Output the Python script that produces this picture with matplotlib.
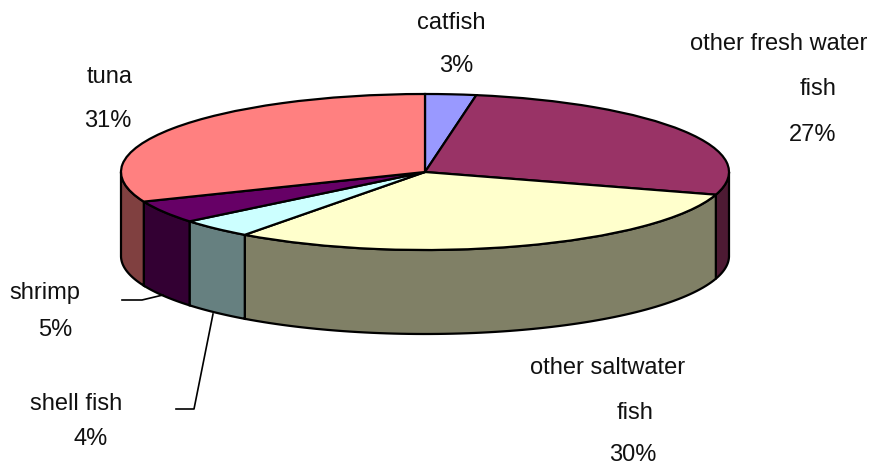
import numpy as np
import matplotlib
matplotlib.use("Agg")
import matplotlib.pyplot as plt

W, H = 873, 467

categories = ["catfish", "other fresh water fish", "other saltwater fish",
              "shell fish", "shrimp", "tuna"]
values = [2.7, 27.0, 30.4, 4.0, 4.7, 31.2]
percent_labels = ["3%", "27%", "30%", "4%", "5%", "31%"]

top_colors = ["#9999FF", "#993366", "#FFFFCC", "#CCFFFF", "#660066", "#FF8080"]
side_colors = ["#4C4C80", "#4D1A33", "#808066", "#668080", "#330033", "#804040"]

# pixel geometry of the pie
LEFT, RIGHT, TOP, BOTTOM = 121, 729, 94, 250
DEPTH = 84 / ((BOTTOM - TOP) / 2)  # in pie units
LINE = 1.6

# text lines are placed one by one, the original has odd alignment
text_lines = [
    ("catfish", 451, 23), ("3%", 456, 66),
    ("other fresh water", 779, 44), ("fish", 818, 89), ("27%", 813, 135),
    ("other saltwater", 608, 368), ("fish", 635, 413), ("30%", 633, 455),
    ("shell fish", 76, 404), ("4%", 91, 439),
    ("shrimp", 45, 293), ("5%", 55, 330),
    ("tuna", 110, 77), ("31%", 108, 121),
]
leaders = [
    ([122, 142, 163], [300, 300, 295]),
    ([176, 194, 213], [409, 409, 314]),
]


def main():
    plt.rcParams["font.family"] = ["Liberation Sans", "DejaVu Sans"]
    fig = plt.figure(figsize=(W / 100, H / 100), dpi=100, facecolor="white")

    ax = fig.add_axes([LEFT / W, 1 - BOTTOM / H, (RIGHT - LEFT) / W, (BOTTOM - TOP) / H])
    ax.pie(values, colors=top_colors, startangle=90, counterclock=False, radius=1,
           wedgeprops=dict(edgecolor="black", linewidth=LINE, clip_on=False, zorder=5))
    ax.set_aspect("auto")
    ax.set_xlim(-1, 1)
    ax.set_ylim(-1, 1)

    # side wall of each slice, only the front half of the rim shows
    edges = np.cumsum([0] + values) / np.sum(values) * 360
    for start, end, color in zip(edges[:-1], edges[1:], side_colors):
        lo, hi = max(start, 90), min(end, 270)
        if hi <= lo:
            continue
        theta = np.radians(np.linspace(lo, hi, 80))
        x = np.sin(theta)
        y = np.cos(theta)
        ax.fill(np.r_[x, x[::-1]], np.r_[y, y[::-1] - DEPTH], facecolor=color,
                edgecolor="black", linewidth=LINE, clip_on=False, zorder=2)

    # overlay in pixel coordinates for labels and leader lines
    overlay = fig.add_axes([0, 0, 1, 1], facecolor="none")
    overlay.set_xlim(0, W)
    overlay.set_ylim(H, 0)
    overlay.axis("off")
    for xs, ys in leaders:
        overlay.plot(xs, ys, color="black", linewidth=1.2)
    for text, x, y in text_lines:
        overlay.text(x, y, text, ha="center", va="center", fontsize=17, color="#111111")

    fig.savefig("out.png", dpi=100)


if __name__ == "__main__":
    main()
